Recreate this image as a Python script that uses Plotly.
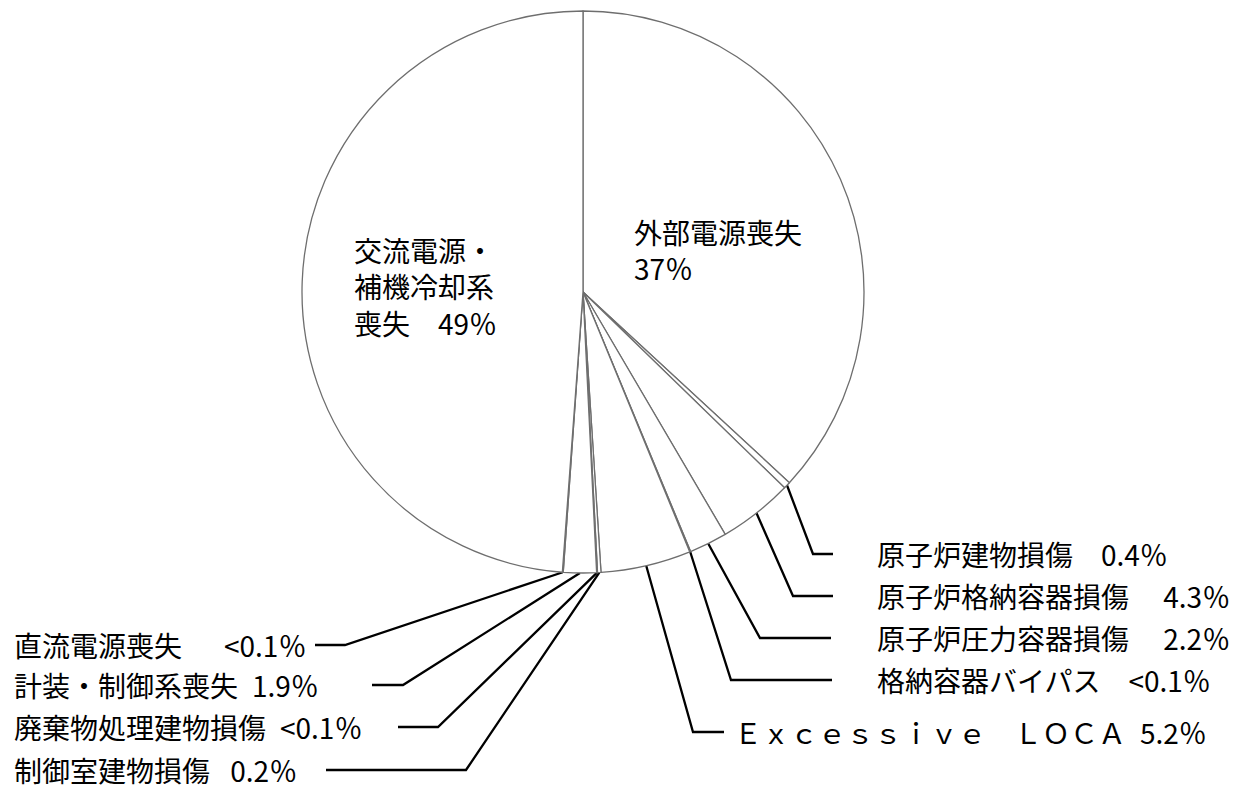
import math
import plotly.graph_objects as go

# ---------------- data ----------------
labels = ["外部電源喪失", "原子炉建物損傷", "原子炉格納容器損傷", "原子炉圧力容器損傷",
          "格納容器バイパス", "Ｅｘｃｅｓｓｉｖｅ　ＬＯＣＡ", "制御室建物損傷",
          "廃棄物処理建物損傷", "計装・制御系喪失", "直流電源喪失", "交流電源・補機冷却系喪失"]
values = [37, 0.4, 4.3, 2.2, 0.05, 5.2, 0.2, 0.05, 1.9, 0.05, 49]
value_text = ["37％", "0.4％", "4.3％", "2.2％", "<0.1％", "5.2％", "0.2％",
              "<0.1％", "1.9％", "<0.1％", "49％"]

# ---------------- layout constants (pixels) ----------------
W, H = 1244, 789
CX, CY, R = 583, 292, 281
FONT = "Noto Sans CJK JP"
FS = 28
FW = "\u3000"   # full-width space
EN = "\u2002"   # en space
NB = "\u00a0"   # no-break space

# callout layout: slice index -> text x, text y, elbow x, stub end x, spacer
callouts = {
    1: dict(tx=876, ty=554, ex=813, sx=833, sp=FW),
    2: dict(tx=876, ty=596, ex=793, sx=833, sp=FW + NB),
    3: dict(tx=876, ty=638, ex=760, sx=831, sp=FW + NB),
    4: dict(tx=876, ty=680, ex=731, sx=832, sp=FW),
    5: dict(tx=733, ty=732, ex=693, sx=724, sp=EN),
    6: dict(tx=13, ty=770, ex=466, sx=326, sp=EN + NB),
    7: dict(tx=13, ty=727, ex=438, sx=398, sp=EN),
    8: dict(tx=13, ty=685, ex=403, sx=372, sp=EN),
    9: dict(tx=13, ty=645, ex=345, sx=315, sp=FW + EN),
}
inside = {
    0: dict(x=633, y=250, lines=["外部電源喪失", value_text[0]]),
    10: dict(x=353, y=286, lines=["交流電源・", "補機冷却系", "喪失" + FW + value_text[10]]),
}

fig = go.Figure()

# pie
fig.add_trace(go.Pie(
    labels=labels, values=values, sort=False, direction="clockwise", rotation=0,
    textinfo="none", textposition="none", hoverinfo="label+percent", showlegend=False,
    marker=dict(colors=["white"] * len(values), line=dict(color="#6e6e6e", width=1.3)),
    domain=dict(x=[(CX - R) / W, (CX + R) / W], y=[(H - CY - R) / H, (H - CY + R) / H]),
))

# leader lines: start at the mid-angle of each slice on the arc
total = sum(values)
cum = 0.0
mids = []
for v in values:
    mids.append((cum + v / 2) / total * 2 * math.pi)
    cum += v

lx, ly = [], []
for i, c in callouts.items():
    a = mids[i]
    x0 = CX + R * math.sin(a)
    y0 = CY - R * math.cos(a)
    lx += [x0, c["ex"], c["sx"], None]
    ly += [y0, c["ty"], c["ty"], None]
fig.add_trace(go.Scatter(x=lx, y=ly, mode="lines", line=dict(color="black", width=2.3),
                         hoverinfo="skip", showlegend=False))

annotations = []
for i, c in callouts.items():
    annotations.append(dict(x=c["tx"], y=c["ty"], xref="x", yref="y",
                            text=labels[i] + c["sp"] + value_text[i], showarrow=False,
                            xanchor="left", yanchor="middle", align="left", borderpad=0,
                            font=dict(family=FONT, size=FS, color="black")))
for i, c in inside.items():
    annotations.append(dict(x=c["x"], y=c["y"], xref="x", yref="y",
                            text="<br>".join(c["lines"]), showarrow=False,
                            xanchor="left", yanchor="middle", align="left", borderpad=0,
                            font=dict(family=FONT, size=FS, color="black")))

fig.update_layout(
    width=W, height=H, margin=dict(l=0, r=0, t=0, b=0),
    paper_bgcolor="white", plot_bgcolor="rgba(0,0,0,0)",
    xaxis=dict(range=[0, W], visible=False, fixedrange=True, domain=[0, 1]),
    yaxis=dict(range=[H, 0], visible=False, fixedrange=True, domain=[0, 1]),
    annotations=annotations, font=dict(family=FONT),
)

fig.write_html("out.html", config={"displayModeBar": False},
               post_script="document.body.style.margin='0';")
